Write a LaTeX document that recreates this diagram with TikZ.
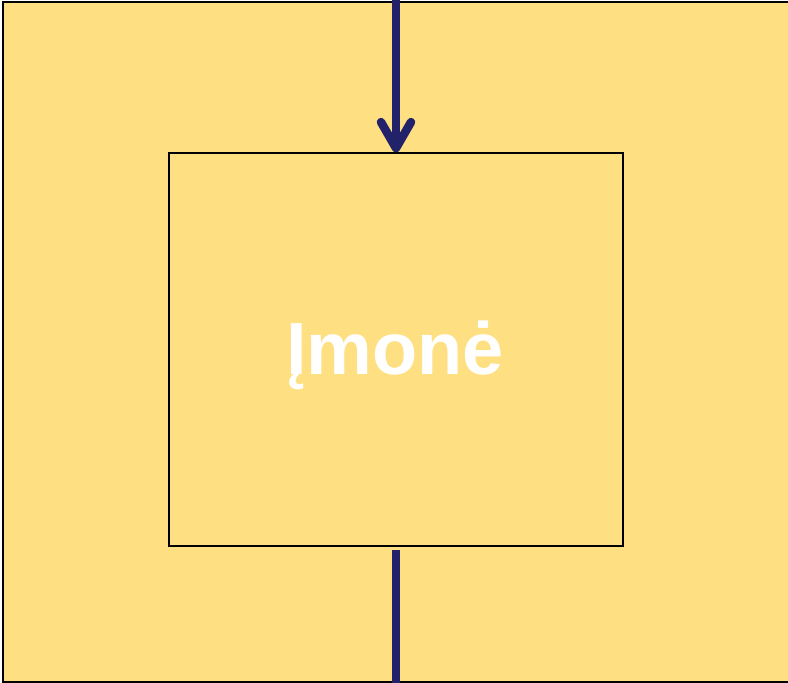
\documentclass[tikz,border=0pt]{standalone}
\usepackage{fontspec}
\setmainfont{Liberation Sans}
\usetikzlibrary{arrows.meta}
\definecolor{bgyellow}{HTML}{FEDF82}
\definecolor{navy}{HTML}{22226B}
\tikzset{
  outerbox/.style={draw=black, line width=1.8pt, fill=bgyellow},
  innerbox/.style={draw=black, line width=1.3pt, fill=bgyellow, minimum width=454pt, minimum height=393pt, inner sep=0pt},
  flow/.style={draw=navy, line width=8.5pt},
  label/.style={text=white, font=\fontsize{74}{74}\selectfont\bfseries}
}
\begin{document}
\begin{tikzpicture}[x=1pt,y=-1pt]
\useasboundingbox (0,0) rectangle (788,683);
\draw[outerbox] (3,2) rectangle (800,682);
\node[innerbox] (firm) at (396,349.5) {};
\node[label] (txt) at (395,355) {Įmonė};
\coordinate (top) at (396,0);
\coordinate (below) at (396,550);
\coordinate (bottom) at (396,683);
\draw[flow, -{Straight Barb[round, length=26pt, width=30pt]}] (top) -- (firm.north);
\draw[flow] (below) -- (bottom);
\end{tikzpicture}
\end{document}
